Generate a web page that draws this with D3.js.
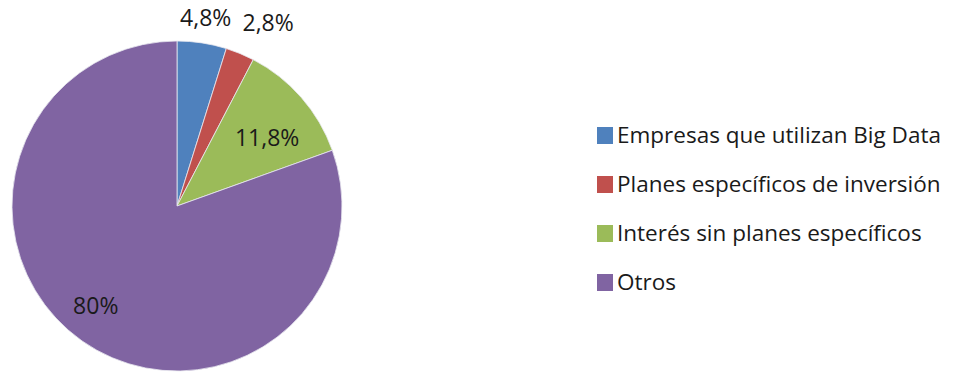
<!DOCTYPE html>
<html>
<head>
<meta charset="utf-8">
<script src="https://cdn.jsdelivr.net/npm/d3@7"></script>
<style>
    body { margin: 0; background: #fff; }
    svg { display: block; font-family: "Open Sans", "Noto Sans", sans-serif; }
</style>
</head>
<body>
<div id="chart"></div>
<script>
// data
const categories = ['Empresas que utilizan Big Data', 'Planes específicos de inversión', 'Interés sin planes específicos', 'Otros'];
const values = [4.8, 2.8, 11.8, 80];
const valueLabels = ['4,8%', '2,8%', '11,8%', '80%'];
const colors = ['#4F81BD', '#C0504D', '#9BBB59', '#8064A2'];

const width = 961, height = 374;
const cx = 177, cy = 206, radius = 165;
// label placement: radius factor and small angular nudge (deg), like Excel's
const labelRadius = [1.15, 1.24, 0.685, 0.78];
const labelShift = [0, 4, 4, 4];

const svg = d3.select('#chart')
    .append('svg')
    .attr('width', width)
    .attr('height', height);

const rows = categories.map((c, i) => ({ name: c, value: values[i], label: valueLabels[i], color: colors[i], i: i }));

const pie = d3.pie()
    .sort(null)
    .value(d => d.value);
const arcs = pie(rows);
const arc = d3.arc().innerRadius(0).outerRadius(radius);

const plot = svg.append('g')
    .attr('transform', `translate(${cx},${cy})`);

plot.selectAll('.slice')
    .data(arcs)
    .enter()
    .append('path')
    .classed('slice', true)
    .attr('d', arc)
    .style('fill', d => d.data.color)
    .style('stroke', '#e8e8f0')
    .style('stroke-width', 0.8);

plot.selectAll('.value-label')
    .data(arcs)
    .enter()
    .append('text')
    .classed('value-label', true)
    .attr('transform', d => {
        let r = radius * labelRadius[d.data.i];
        let a = (d.startAngle + d.endAngle) / 2 + labelShift[d.data.i] * Math.PI / 180;
        return `translate(${r * Math.sin(a)},${-r * Math.cos(a)})`;
    })
    .attr('text-anchor', 'middle')
    .attr('dy', '0.35em')
    .style('font-size', '23px')
    .style('fill', '#1a1a1a')
    .text(d => d.data.label);

// legend
const legend = svg.append('g')
    .classed('legend', true)
    .attr('transform', `translate(597,135)`);
const item = legend.selectAll('.legend-item')
    .data(rows)
    .enter()
    .append('g')
    .classed('legend-item', true)
    .attr('transform', (d, i) => `translate(0,${i * 49})`);
item.append('rect')
    .attr('x', 0)
    .attr('y', -8)
    .attr('width', 16)
    .attr('height', 17)
    .style('fill', d => d.color);
item.append('text')
    .attr('x', 20)
    .attr('dy', '0.35em')
    .style('font-size', '22.5px')
    .style('fill', '#1a1a1a')
    .text(d => d.name);
</script>
</body>
</html>
